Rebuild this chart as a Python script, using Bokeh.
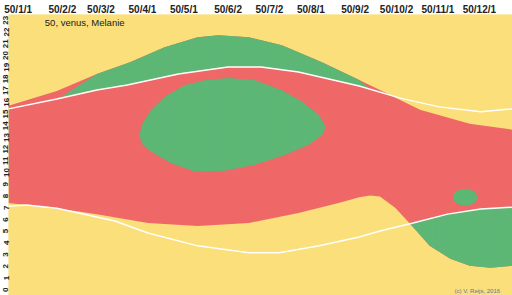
from bokeh.plotting import figure
from bokeh.models import FixedTicker, Label
from bokeh.embed import file_html
from bokeh.resources import INLINE

# ---- data (day of year from 50/1/1, hour of day) ----
label_days = [0, 32, 60, 90, 120, 152, 182, 212, 244, 274, 304, 334]
label_texts = ["50/1/1", "50/2/2", "50/3/2", "50/4/1", "50/5/1", "50/6/2",
               "50/7/2", "50/8/1", "50/9/2", "50/10/2", "50/11/1", "50/12/1"]
hours = list(range(24))

sunset_day = [0, 35, 64, 86, 123, 159, 183, 210, 232, 254, 283, 312, 342, 365]
sunset_hour = [15.94, 16.79, 17.55, 17.98, 18.91, 19.51, 19.51, 19.08, 18.49,
               17.89, 16.88, 16.11, 15.69, 15.94]

sunrise_day = [0, 13, 35, 77, 101, 137, 174, 196, 225, 254, 269, 293, 318, 342, 365]
sunrise_hour = [7.63, 7.72, 7.46, 6.36, 5.34, 4.24, 3.65, 3.65, 4.24, 5.0, 5.51,
                6.19, 6.95, 7.38, 7.55]

vset_day = [0, 35, 64, 88, 113, 137, 152, 174, 198, 227, 254, 269, 298, 334, 365]
vset_hour = [16.2, 17.47, 18.91, 19.93, 21.2, 22.05, 22.22, 22.05, 21.37, 19.93,
             18.4, 17.55, 15.86, 14.67, 14.16]

vrise_day = [0, 35, 64, 101, 137, 174, 210, 239, 254, 262, 269, 280, 291, 305, 320, 334, 349, 365]
vrise_hour = [7.89, 7.46, 6.95, 6.19, 5.94, 6.19, 7.04, 7.9, 8.4, 8.55, 8.45, 7.5,
              6.1, 4.24, 3.14, 2.54, 2.37, 2.54]

# green evening band: tips where it starts/ends
eve_tip_day = [38, 262]
eve_tip_hour = [16.95, 17.6]

# morning green: starts where venus rise crosses sunrise
morn_tip_day = 291

blob_day = [94.7, 97.1, 103.1, 112.9, 127.5, 142.1, 159.1, 178.6, 198.1, 212.7, 224.8,
            229.7, 227.3, 217.5, 200.5, 178.6, 156.7, 134.8, 117.7, 103.1, 97.1]
blob_hour = [13.71, 14.70, 15.83, 16.96, 17.95, 18.38, 18.57, 18.38, 17.53, 16.54, 15.41,
             14.42, 13.71, 12.87, 12.02, 11.17, 10.66, 10.60, 11.30, 12.30, 12.87]

small_blob_day = [330.7]
small_blob_hour = [8.4]
small_blob_w = [17.5]
small_blob_h = [1.45]

YELLOW = "#FADF7A"
RED = "#EF6767"
GREEN = "#5CB674"

HATCH = dict(hatch_pattern="vertical_line", hatch_scale=1.37, hatch_color="white",
             hatch_alpha=0.18, hatch_weight=0.5)

p = figure(width=512, height=295, x_range=(0, 365), y_range=(0, 24),
           x_axis_location="above", output_backend="svg", toolbar_location=None,
           min_border_left=0, min_border_right=0, min_border_top=0, min_border_bottom=0)
p.grid.visible = False
p.outline_line_color = None
p.background_fill_color = YELLOW
p.border_fill_color = "white"

p.quad(left=[0], right=[365], bottom=[0], top=[24], fill_color=YELLOW, line_color=None, **HATCH)

# venus-up region (red)
red_x = vset_day + vrise_day[::-1]
red_y = vset_hour + vrise_hour[::-1]
p.patch(red_x, red_y, fill_color=RED, line_color=None, **HATCH)

# evening green band between sunset and venus set
top = [(d, h) for d, h in zip(vset_day, vset_hour) if eve_tip_day[0] < d < eve_tip_day[1]]
bot = [(d, h) for d, h in zip(sunset_day, sunset_hour) if eve_tip_day[0] < d < eve_tip_day[1]]
gx = [eve_tip_day[0]] + [t[0] for t in top] + [eve_tip_day[1]] + [b[0] for b in bot[::-1]]
gy = [eve_tip_hour[0]] + [t[1] for t in top] + [eve_tip_hour[1]] + [b[1] for b in bot[::-1]]
p.patch(gx, gy, fill_color=GREEN, line_color=None, **HATCH)

# morning green between venus rise and sunrise
mt = [(d, h) for d, h in zip(sunrise_day, sunrise_hour) if d > morn_tip_day]
mb = [(d, h) for d, h in zip(vrise_day, vrise_hour) if d >= morn_tip_day]
mx = [mb[0][0]] + [t[0] for t in mt] + [b[0] for b in mb[::-1]]
my = [mb[0][1]] + [t[1] for t in mt] + [b[1] for b in mb[::-1]]
p.patch(mx, my, fill_color=GREEN, line_color=None, **HATCH)

# daytime visibility blobs
p.patch(blob_day, blob_hour, fill_color=GREEN, line_color=None, **HATCH)
p.ellipse(small_blob_day, small_blob_hour, width=small_blob_w, height=small_blob_h,
          fill_color=GREEN, line_color=None)

# sunrise / sunset lines
p.line(sunset_day, sunset_hour, line_color="white", line_width=1.5)
p.line(sunrise_day, sunrise_hour, line_color="white", line_width=1.5)

# axes
xa = p.xaxis[0]
xticks = [d + 7 for d in label_days]
xa.ticker = FixedTicker(ticks=xticks)
xa.major_label_overrides = {t: s for t, s in zip(xticks, label_texts)}
ya = p.yaxis[0]
yticks = [h + 0.5 for h in hours]
ya.ticker = FixedTicker(ticks=yticks)
ya.major_label_overrides = {t: str(h) for t, h in zip(yticks, hours)}
ya.major_label_orientation = "vertical"
for ax in (xa, ya):
    ax.axis_line_color = None
    ax.major_tick_line_color = None
    ax.minor_tick_line_color = None
    ax.major_tick_out = 0
    ax.major_tick_in = 0
    ax.major_label_standoff = 0
    ax.major_label_text_font = "Liberation Sans"
    ax.major_label_text_font_style = "bold"
    ax.major_label_text_color = "#222222"
xa.major_label_text_font_size = "10px"
ya.major_label_text_font_size = "8px"

p.add_layout(Label(x=26.3, y=23.3, text="50, venus, Melanie", text_font="Liberation Sans",
                   text_font_size="9.5px", text_baseline="middle", text_align="left",
                   text_color="#222222"))
p.add_layout(Label(x=356, y=0.4, text="(c) V. Reijs, 2016", text_font="Liberation Sans",
                   text_font_size="6px", text_baseline="middle", text_align="right",
                   text_color="#5b7ba3"))

open("out.html", "w").write(file_html(p, INLINE))
